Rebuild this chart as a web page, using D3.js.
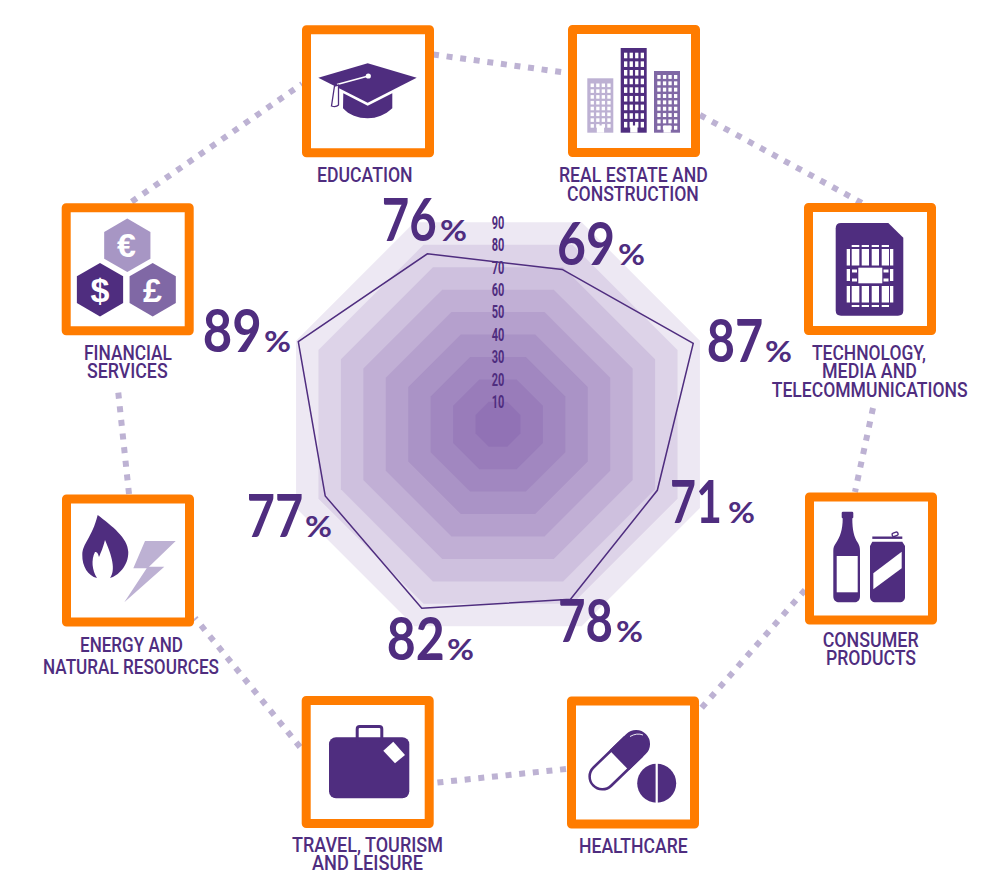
<!DOCTYPE html>
<html><head><meta charset="utf-8">
<script src="https://cdn.jsdelivr.net/npm/d3@7/dist/d3.min.js"></script>
<style>html,body{margin:0;padding:0;background:#fff}svg{display:block}</style>
</head><body><svg id="c" width="1000" height="876"></svg>
<script>
// ---------- data ----------
const categories = ["Real estate and construction","Technology, media and telecommunications","Consumer products","Healthcare","Travel, tourism and leisure","Energy and natural resources","Financial services","Education"];
const values = [69,87,71,78,82,77,89,76];
const tickLabels = [10,20,30,40,50,60,70,80,90];
const categoryLines = [["REAL ESTATE AND","CONSTRUCTION"],["TECHNOLOGY,","MEDIA AND","TELECOMMUNICATIONS"],["CONSUMER","PRODUCTS"],["HEALTHCARE"],["TRAVEL, TOURISM","AND LEISURE"],["ENERGY AND","NATURAL RESOURCES"],["FINANCIAL","SERVICES"],["EDUCATION"]];

// ---------- layout ----------
const PURPLE="#4f2d7f", ORANGE="#ff7c00", MID="#8068a5", LIGHT="#a796c4", PALE="#bdb1d3";
const cx=498, cy=424.3;
const boxes=[[568,25],[804,203],[805,492.5],[567,696.5],[301.7,696],[62,494.5],[61.7,203.3],[302,25.3]];
const boxSize=132, boxStroke=9;
// per category: [x, y baseline, width] for each line of its caption
const captionPos=[
 [[559,181.7,149],[567,200.7,132]],
 [[812,360,114],[822,378,95],[771.7,397,196]],
 [[822.7,646.7,96],[826,665,90]],
 [[579,852.7,108.7]],
 [[292,851.7,151],[312,870,111]],
 [[80,651.7,103],[43,674,176]],
 [[84,360,88],[87,377.7,80.7]],
 [[317,181.7,95.7]]];
// per category: digits x, digits width, baseline, percent x
const valuePos=[[557,58,265,618],[706.7,56.5,361.7,765],[670,52,522.7,728],[558,55,641.7,616],[386.7,58,660,447],[246.7,56.5,536.7,305],[202.7,59,351.7,264],[381.7,55,241,440]];
const connectors=[[433,54.5,568,73],[700,115,862,203],[873,408,855,492],[805,590,698,712],[566,769,433,783],[300,747,195,618],[129,494,118,390],[131.7,201.7,302,84]];

const svg=d3.select("#c");
const r=d3.scaleLinear().domain([0,90]).range([0,218.6]);
const ang=i=>Math.PI/8+i*Math.PI/4;
const polar=d3.lineRadial().curve(d3.curveLinearClosed);

// text squeezed to an exact width: real text, horizontally scaled by a transform
function fitted(parent,str,x,y,w,size,weight){
  const t=parent.append("text").attr("font-size",size).attr("font-weight",weight).text(str);
  const natural=t.node().getComputedTextLength();
  t.attr("transform",`translate(${x},${y}) scale(${w/natural},1)`);
  return t;
}

// dotted connectors
svg.append("g").selectAll("line").data(connectors).join("line")
 .attr("x1",d=>d[0]).attr("y1",d=>d[1]).attr("x2",d=>d[2]).attr("y2",d=>d[3])
 .attr("stroke","#bdb2d3").attr("stroke-width",6).attr("stroke-dasharray","6 7.7");

// concentric rings
const plot=svg.append("g").attr("transform",`translate(${cx},${cy})`);
plot.append("g").selectAll("path").data(tickLabels.slice().reverse()).join("path")
 .attr("d",t=>polar(d3.range(8).map(i=>[ang(i),r(t)])))
 .attr("fill","#542a8a").attr("fill-opacity",0.105);
// value outline
plot.append("path").attr("d",polar(values.map((v,i)=>[ang(i),r(v)])))
 .attr("fill","none").attr("stroke",PURPLE).attr("stroke-width",1.5).attr("stroke-linejoin","miter");
// scale labels
const tg=plot.append("g").attr("fill",PURPLE).attr("font-family","'Liberation Sans Narrow','Roboto',sans-serif");
tickLabels.forEach(t=>fitted(tg,t,-6.3,-r(t)*Math.cos(Math.PI/8)+6.4,12.6,18,700));

// value labels
const vg=svg.append("g").attr("fill",PURPLE).attr("font-family","Lato,sans-serif");
values.forEach((v,i)=>{
  const p=valuePos[i];
  fitted(vg,v,p[0],p[2],p[1],59,700);
  fitted(vg,"%",p[3],p[2],27,29,700);
});

// boxes
svg.append("g").selectAll("rect").data(boxes).join("rect")
 .attr("x",d=>d[0]+boxStroke/2).attr("y",d=>d[1]+boxStroke/2)
 .attr("width",boxSize-boxStroke).attr("height",boxSize-boxStroke)
 .attr("fill","#fff").attr("stroke",ORANGE).attr("stroke-width",boxStroke).attr("stroke-linejoin","round");

// captions
const cg=svg.append("g").attr("fill",PURPLE).attr("font-family","Roboto,sans-serif");
categoryLines.forEach((ls,i)=>ls.forEach((t,j)=>{
  const p=captionPos[i][j];
  fitted(cg,t,p[0],p[1],p[2],19.5,500);
}));

// ---------- icons (decoration) ----------
const ic=svg.append("g");
const P=(d,f)=>ic.append("path").attr("d",d).attr("fill",f||PURPLE);
const R=(x,y,w,h,f,rx)=>ic.append("rect").attr("x",x).attr("y",y).attr("width",w).attr("height",h).attr("fill",f).attr("rx",rx||0);

// education
P("M318.3,77.7L367.7,63.3L416.7,77.7L367.7,102.7Z");
P("M343.3,93.3L367.7,105.7L392.3,93.3V108.3C385,115 377,118.3 367.7,118.3C358,118.3 349,115 343,108.3Z");
ic.append("path").attr("d","M368.3,76L337,84.5").attr("stroke","#fff").attr("stroke-width",1.6).attr("fill","none");
ic.append("circle").attr("cx",368.3).attr("cy",76).attr("r",2.6).attr("fill","#fff");
ic.append("path").attr("d","M334.5,86L338.5,85L338.5,105Q336,107.5 331.5,106Z").attr("fill","#fff").attr("stroke",PURPLE).attr("stroke-width",1.3);

// real estate
function building(x,y,w,h,col,rows,y0,dy,wh){
  R(x,y,w,h,col);
  const cols=[3.5,9.1,14.6,20.2];
  d3.range(rows).forEach(ri=>cols.forEach(c=>R(x+c-0.2,y0+ri*dy,3.3,wh,"#fff")));
  R(x+9.5,y+h-7.2,7.3,7.2,"#fff");
}
building(587.3,78.3,26,54.4,PALE,8,83.5,5.8,3.6);
building(620.7,48,26,84.7,PURPLE,9,52.7,8.65,5.6);
building(654,71,26,61.7,MID,9,75,6.35,3.9);

// sim
P("M841,223H888.3L903.3,237.7V310.5Q903.3,315.7 898,315.7H841Q835.7,315.7 835.7,310.5V228.3Q835.7,223 841,223Z");
const simX=[[851.7,7.6],[861.7,7.3],[871.7,7.3],[881.7,7.3]];
simX.forEach(s=>{R(s[0],249,s[1],16.5,"#fff");R(s[0],286,s[1],16.5,"#fff");R(s[0],245,s[1],2,"#fff");R(s[0],305,s[1],2,"#fff");});
[846.7,890].forEach(x=>{R(x,249,3.3,16.5,"#fff");R(x,286,3.3,16.5,"#fff");R(x,269,3.3,12,"#fff");});
R(852,269.5,5,3,"#fff");R(852,278.5,5,3,"#fff");R(883.5,269.5,5,3,"#fff");R(883.5,278.5,5,3,"#fff");
R(858.3,267.7,24,15.6,"#fff");

// finance
const hex=(x,y,col)=>P(d3.range(6).map(i=>{const a=i*Math.PI/3;return (i?"L":"M")+(x+26.7*Math.sin(a))+","+(y-26.7*Math.cos(a));}).join("")+"Z",col);
hex(127.3,245.3,LIGHT);hex(100,289.7,PURPLE);hex(152.7,289.7,MID);
ic.append("g").attr("fill","#fff").attr("font-family","'Liberation Sans',sans-serif").attr("font-weight",700).attr("font-size",34).attr("text-anchor","middle")
 .selectAll("text").data([["€",126.5,257],["$",100,301.5],["£",152.5,301.5]]).join("text").attr("x",d=>d[1]).attr("y",d=>d[2]).text(d=>d[0]);

// bottle + can
P("M841.7,513Q841.7,511.7 843,511.7H852Q853.3,511.7 853.3,513V517.5L852.3,518.5C852.3,530 854,537 858,543C859.5,545.5 860,548 860,551V596C860,600 858,602.3 854,602.3H839.5C835.5,602.3 833.3,600 833.3,596V551C833.3,548 834,545.5 836,543C840,537 842.7,530 842.7,518.5L841.7,517.5Z");
R(836.7,556,21,36.3,"#fff");
P("M872.3,541.7H902.3L905,546V597C905,600 903,602.3 899,602.3H876C872,602.3 870,600 870,597V546Z");
R(872.3,536.5,30,2.4,PURPLE);
ic.append("rect").attr("x",892).attr("y",532.5).attr("width",6).attr("height",3.6).attr("rx",1.5).attr("fill","#fff").attr("stroke",PURPLE).attr("stroke-width",1.4).attr("transform","rotate(-20 895 534)");
P("M873.3,573.3L901.7,551.7V568.3L873.3,589.3Z","#fff");

// pill
const pill=ic.append("g").attr("transform","translate(619.2,760.3) rotate(-44)");
pill.append("rect").attr("x",-37.4).attr("y",-14).attr("width",74.8).attr("height",28).attr("rx",14).attr("fill",PURPLE);
pill.append("rect").attr("x",-34.9).attr("y",-11.4).attr("width",52).attr("height",22.8).attr("rx",11.4).attr("fill","#fff");
pill.append("rect").attr("x",0).attr("y",-14).attr("width",20).attr("height",28).attr("fill",PURPLE);
ic.append("path").attr("d","M630,736.5Q637,732.5 643,735").attr("stroke","#fff").attr("stroke-width",0.9).attr("fill","none");
ic.append("circle").attr("cx",656.7).attr("cy",783.3).attr("r",19.5).attr("fill",PURPLE);
R(655.6,763,2.2,40,"#fff");

// suitcase
R(329,737.3,80.3,61,PURPLE,7);
ic.append("rect").attr("x",357.2).attr("y",726.5).attr("width",24.6).attr("height",14).attr("rx",2.5).attr("fill","none").attr("stroke",PURPLE).attr("stroke-width",3);
P("M393.3,741.7L405,755L395,763.3L383.3,750.7Z","#fff");

// flame + bolt
P("M97.7,515C112,526 128,538 128.3,552C128.5,566 118,576 110,578C116,570 112,556 105,540C103,548 101,552 99,557C98,553 97,552 95,552C91,560 92,570 97,578C88,576 82,566 82.3,555C82.5,543 92,538 97.7,515Z");
P("M175.7,541H145L133.3,568.3H146.7L124.3,602.3L164.3,566.7H149Z",PALE);
</script></body></html>
